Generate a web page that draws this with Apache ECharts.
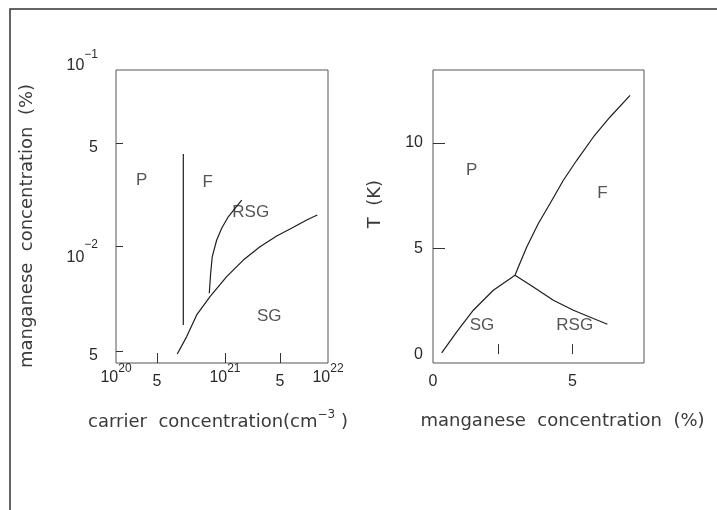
<!DOCTYPE html>
<html><head><meta charset="utf-8">
<script src="https://cdn.jsdelivr.net/npm/echarts@6/dist/echarts.min.js"></script>
<style>html,body{margin:0;padding:0;background:#fff}#c{width:717px;height:510px}</style>
</head><body><div id="c"></div>
<script>
// ---------- Left panel: manganese concentration vs carrier concentration ----------
// x axis in decades of carrier concentration (log10 cm^-3), y axis in decades of Mn concentration
const leftXTickValues = [20, 20.387, 21.028, 21.547, 22];
const leftXTickBase   = ['10', '5', '10', '5', '10'];
const leftXTickExp    = ['20', '', '21', '', '22'];
const leftYTickValues = [-2.597, -2.0, -1.415, -1.0];
const leftYTickBase   = ['5', '10', '5', '10'];
const leftYTickExp    = ['', '−2', '', '−1'];

// boundary P | F (vertical line)
const leftLinePF = [[20.635, -1.477], [20.635, -2.449]];
// boundary F | RSG
const leftLineFRSG = [[20.880, -2.269], [20.893, -2.155], [20.908, -2.061], [20.950, -1.966],
  [20.997, -1.899], [21.059, -1.834], [21.123, -1.786], [21.186, -1.739]];
// boundary (F,RSG) | SG
const leftLineSG = [[20.578, -2.614], [20.667, -2.515], [20.761, -2.392], [20.887, -2.288],
  [21.044, -2.174], [21.201, -2.080], [21.358, -2.004], [21.516, -1.943], [21.673, -1.894],
  [21.799, -1.852], [21.899, -1.824]];
const leftRegionNames = ['P', 'F', 'RSG', 'SG'];
const leftRegionX = [20.242, 20.865, 21.271, 21.446];
const leftRegionY = [-1.625, -1.640, -1.809, -2.402];

// ---------- Right panel: T (K) vs manganese concentration (%) ----------
const rightXTickValues = [0, 5];
const rightXTickLabels = ['0', '5'];
const rightXTickMarks  = [2.34, 5];
const rightYTickValues = [0, 5, 10];
const rightYTickLabels = ['0', '5', '10'];
const rightYTickMarks  = [5, 10];

const rightLineSG = [[0.312, 0.057], [0.851, 1.051], [1.447, 2.078], [2.164, 3.024], [2.943, 3.734]];
const rightLineF = [[2.943, 3.734], [3.062, 4.127], [3.363, 5.073], [3.780, 6.181], [4.200, 7.127],
  [4.677, 8.230], [5.158, 9.176], [5.754, 10.279], [6.353, 11.226], [7.071, 12.253]];
const rightLineRSG = [[2.943, 3.734], [3.600, 3.180], [4.318, 2.551], [5.036, 2.078],
  [5.754, 1.685], [6.256, 1.415]];
const rightRegionNames = ['P', 'F', 'SG', 'RSG'];
const rightRegionX = [1.389, 6.077, 1.759, 5.086];
const rightRegionY = [8.70, 7.63, 1.37, 1.37];

// ---------- styling ----------
const FONT = 'Liberation Sans';
const TFONT = 'DejaVu Sans';
const TXT = '#2a2a2a';
const TTXT = '#3a3a3a';
const LINE = '#1e1e1e';
const BOX = '#555';

function findIdx(arr, v) {
  let best = 0, d = Infinity;
  arr.forEach((a, i) => { if (Math.abs(a - v) < d) { d = Math.abs(a - v); best = i; } });
  return best;
}

const chart = echarts.init(document.getElementById('c'), null, {renderer: 'canvas'});

function lineSeries(data, xi) {
  return {type: 'line', xAxisIndex: xi, yAxisIndex: xi, data: data, showSymbol: false,
    symbol: 'none', silent: true, animation: false,
    lineStyle: {color: LINE, width: 1.2}};
}
function labelSeries(names, xs, ys, xi) {
  return {type: 'scatter', xAxisIndex: xi, yAxisIndex: xi, symbolSize: 1, animation: false,
    itemStyle: {color: 'rgba(0,0,0,0)'}, silent: true,
    data: names.map((n, i) => ({name: n, value: [xs[i], ys[i]]})),
    label: {show: true, position: 'inside', formatter: p => p.name,
      fontFamily: FONT, fontSize: 17, color: TXT}};
}

const option = {
  backgroundColor: '#fff',
  animation: false,
  graphic: [{type: 'polyline', silent: true,
    shape: {points: [[10, 520], [10, 9], [720, 9]]},
    style: {stroke: '#333', lineWidth: 1.5, fill: null}}],
  grid: [
    {left: 116, top: 70, width: 212, height: 293, show: true, borderColor: BOX, borderWidth: 1, backgroundColor: 'transparent'},
    {left: 433, top: 70, width: 211, height: 293, show: true, borderColor: BOX, borderWidth: 1, backgroundColor: 'transparent'}
  ],
  xAxis: [
    {gridIndex: 0, type: 'value', min: 20, max: 22,
      axisLine: {show: false}, splitLine: {show: false},
      axisTick: {show: true, inside: true, length: 10, lineStyle: {color: '#333'},
        customValues: leftXTickValues.slice(1, -1)},
      axisLabel: {show: true, margin: 7, customValues: leftXTickValues,
        fontFamily: FONT, fontSize: 16, color: TXT,
        formatter: v => {
          const i = findIdx(leftXTickValues, v);
          return leftXTickExp[i] ? '{b|' + leftXTickBase[i] + '}{s|' + leftXTickExp[i] + '}' : '{p|' + leftXTickBase[i] + '}';
        },
        rich: {
          b: {fontFamily: FONT, fontSize: 16, lineHeight: 16, color: TXT},
          s: {fontFamily: FONT, fontSize: 12, lineHeight: 12, color: TXT, padding: [0, 0, 18, 0]},
          p: {fontFamily: FONT, fontSize: 16, lineHeight: 16, color: TXT, padding: [7, 0, 0, 0]}
        }},
      name: 'carrier  concentration(cm{s|−3} )', nameLocation: 'middle', nameGap: 46,
      nameTextStyle: {fontFamily: TFONT, fontSize: 18, color: TTXT, padding: [0, 8, 0, 0],
        rich: {s: {fontFamily: TFONT, fontSize: 12, color: TTXT, padding: [0, 0, 14, 0]}}}},
    {gridIndex: 1, type: 'value', min: 0, max: 7.57,
      axisLine: {show: false}, splitLine: {show: false},
      axisTick: {show: true, inside: true, length: 10, lineStyle: {color: '#333'}, customValues: rightXTickMarks},
      axisLabel: {show: true, margin: 11, customValues: rightXTickValues,
        fontFamily: FONT, fontSize: 16, color: TXT,
        formatter: v => rightXTickLabels[findIdx(rightXTickValues, v)]},
      name: 'manganese  concentration  (%)', nameLocation: 'middle', nameGap: 49,
      nameTextStyle: {fontFamily: TFONT, fontSize: 18, color: TTXT, padding: [0, 0, 0, 48]}}
  ],
  yAxis: [
    {gridIndex: 0, type: 'value', min: -2.665, max: -1.0,
      axisLine: {show: false}, splitLine: {show: false},
      axisTick: {show: true, inside: true, length: 7, lineStyle: {color: '#333'},
        customValues: leftYTickValues.slice(0, -1)},
      axisLabel: {show: true, margin: 18, customValues: leftYTickValues,
        fontFamily: FONT, fontSize: 16, color: TXT,
        formatter: v => {
          const i = findIdx(leftYTickValues, v);
          if (!leftYTickExp[i]) return '{p|' + leftYTickBase[i] + '}';
          if (i === leftYTickValues.length - 1) return '{tb|' + leftYTickBase[i] + '}{ts|' + leftYTickExp[i] + '}';
          return '{b|' + leftYTickBase[i] + '}{s|' + leftYTickExp[i] + '}';
        },
        rich: {
          p: {fontFamily: FONT, fontSize: 16, lineHeight: 16, color: TXT, padding: [9, 0, 0, 0]},
          b: {fontFamily: FONT, fontSize: 16, lineHeight: 16, color: TXT, padding: [24, 0, 0, 0]},
          s: {fontFamily: FONT, fontSize: 12, lineHeight: 12, color: TXT, padding: [0, 0, 2, 0]},
          tb: {fontFamily: FONT, fontSize: 16, lineHeight: 16, color: TXT, padding: [0, 0, 8, 0]},
          ts: {fontFamily: FONT, fontSize: 12, lineHeight: 12, color: TXT, padding: [0, 0, 30, 0]}
        }},
      name: 'manganese  concentration  (%)', nameLocation: 'middle', nameGap: 80, nameRotate: 90,
      nameTextStyle: {fontFamily: TFONT, fontSize: 18, color: TTXT, padding: [0, 19, 0, 0]}},
    {gridIndex: 1, type: 'value', min: -0.42, max: 13.45,
      axisLine: {show: false}, splitLine: {show: false},
      axisTick: {show: true, inside: true, length: 12, lineStyle: {color: '#333'}, customValues: rightYTickMarks},
      axisLabel: {show: true, margin: 10, customValues: rightYTickValues,
        fontFamily: FONT, fontSize: 16, color: TXT, padding: [4, 0, 0, 0],
        formatter: v => rightYTickLabels[findIdx(rightYTickValues, v)]},
      name: 'T  (K)', nameLocation: 'middle', nameGap: 49, nameRotate: 90,
      nameTextStyle: {fontFamily: TFONT, fontSize: 18, color: TTXT, padding: [0, 0, 0, 25]}}
  ],
  series: [
    lineSeries(leftLinePF, 0),
    lineSeries(leftLineFRSG, 0),
    lineSeries(leftLineSG, 0),
    labelSeries(leftRegionNames, leftRegionX, leftRegionY, 0),
    lineSeries(rightLineSG, 1),
    lineSeries(rightLineF, 1),
    lineSeries(rightLineRSG, 1),
    labelSeries(rightRegionNames, rightRegionX, rightRegionY, 1)
  ]
};
chart.setOption(option);
</script>
</body></html>
